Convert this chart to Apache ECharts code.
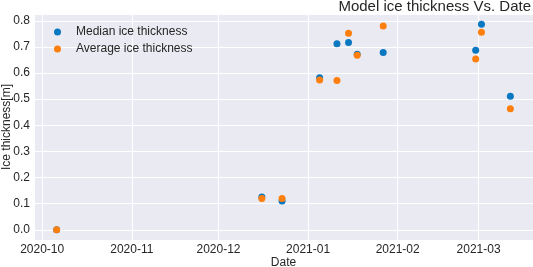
<!DOCTYPE html>
<html>
<head>
<meta charset="utf-8">
<script src="https://cdn.jsdelivr.net/npm/echarts@6/dist/echarts.min.js"></script>
<style>
    html, body { margin: 0; padding: 0; background: #fff; }
    #chart { width: 533px; height: 267px; }
</style>
</head>
<body>
<div id="chart"></div>
<script>
// dates of the measurements
const dates = [
    '2020-10-06', '2020-12-16', '2020-12-23', '2021-01-05', '2021-01-11',
    '2021-01-15', '2021-01-18', '2021-01-27', '2021-02-28', '2021-03-02', '2021-03-12'
];
const medianIce = [0.0, 0.126, 0.110, 0.582, 0.712, 0.717, 0.672, 0.679, 0.687, 0.787, 0.511];
const averageIce = [0.0, 0.120, 0.120, 0.573, 0.571, 0.752, 0.668, 0.780, 0.654, 0.756, 0.463];

const textColor = '#262626';
const day = 86400000;
const xMin = new Date(2020, 8, 28, 4).getTime();
const xMax = new Date(2021, 2, 19, 20).getTime();

const chart = echarts.init(document.getElementById('chart'));

const toPairs = vals => dates.map((d, i) => [d, vals[i]]);

const option = {
    animation: false,
    backgroundColor: '#ffffff',
    title: {
        text: 'Model ice thickness Vs. Date',
        right: 2,
        top: -1,
        padding: 0,
        textStyle: {
            color: textColor,
            fontFamily: 'Liberation Sans',
            fontSize: 15,
            fontWeight: 'normal'
        }
    },
    legend: {
        left: 49,
        top: 21,
        orient: 'vertical',
        itemGap: 5,
        itemWidth: 7,
        itemHeight: 7,
        icon: 'circle',
        textStyle: {
            color: textColor,
            fontFamily: 'Liberation Sans',
            fontSize: 12,
            padding: [0, 0, 0, 10]
        },
        data: ['Median ice thickness', 'Average ice thickness']
    },
    grid: {
        left: 34,
        right: 0,
        top: 14,
        bottom: 27,
        containLabel: false,
        outerBoundsMode: 'none',
        show: true,
        backgroundColor: '#EAEAF2',
        borderWidth: 0
    },
    xAxis: {
        type: 'time',
        min: xMin,
        max: xMax,
        minInterval: 28 * day,
        maxInterval: 31 * day,
        name: 'Date',
        nameLocation: 'middle',
        nameGap: 17,
        nameMoveOverlap: false,
        nameTextStyle: { color: textColor, fontFamily: 'Liberation Sans', fontSize: 12 },
        axisLine: { show: false },
        axisTick: { show: false },
        axisLabel: {
            color: textColor,
            fontFamily: 'Liberation Sans',
            fontSize: 12,
            margin: 4,
            showMinLabel: false,
            showMaxLabel: false,
            formatter: '{yyyy}-{MM}'
        },
        splitLine: { show: true, lineStyle: { color: '#ffffff', width: 1 } }
    },
    yAxis: {
        type: 'value',
        min: -0.039,
        max: 0.826,
        splitNumber: 8,
        name: 'Ice thickness[m]',
        nameLocation: 'middle',
        nameGap: 21,
        nameMoveOverlap: false,
        nameRotate: 90,
        nameTextStyle: { color: textColor, fontFamily: 'Liberation Sans', fontSize: 12 },
        axisLine: { show: false },
        axisTick: { show: false },
        axisLabel: {
            color: textColor,
            fontFamily: 'Liberation Sans',
            fontSize: 12,
            margin: 4,
            showMinLabel: false,
            showMaxLabel: false,
            formatter: v => v.toFixed(1)
        },
        splitLine: { show: true, lineStyle: { color: '#ffffff', width: 1 } }
    },
    series: [
        {
            name: 'Median ice thickness',
            type: 'scatter',
            symbolSize: 7,
            itemStyle: { color: '#0a78c0', opacity: 1 },
            data: toPairs(medianIce)
        },
        {
            name: 'Average ice thickness',
            type: 'scatter',
            symbolSize: 7,
            itemStyle: { color: '#ff7f0e', opacity: 1 },
            data: toPairs(averageIce)
        }
    ]
};

chart.setOption(option);
</script>
</body>
</html>
